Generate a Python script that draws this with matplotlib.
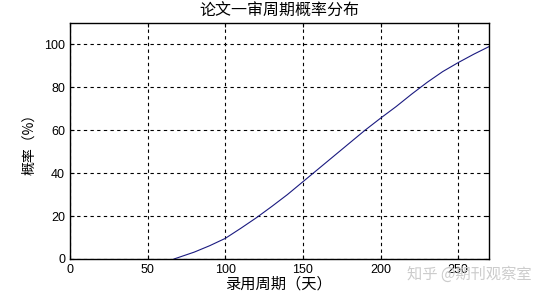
import matplotlib
matplotlib.use('Agg')
import matplotlib.pyplot as plt

# 录用周期 (days) vs cumulative probability (%)
days = [67, 80, 90, 100, 110, 120, 130, 140, 150, 160, 170, 180, 190,
        200, 210, 220, 230, 240, 250, 260, 270]
prob = [0, 3.2, 6.2, 9.6, 14.3, 19.2, 24.5, 30, 36, 42, 48, 54, 60,
        65.6, 71, 76.8, 82.3, 87.3, 91.5, 95.4, 99]

xticks = [0, 50, 100, 150, 200, 250]
yticks = [0, 20, 40, 60, 80, 100]

plt.rcParams['font.family'] = ['Noto Sans CJK SC', 'DejaVu Sans']

fig = plt.figure(figsize=(5.4, 2.97), dpi=100)
ax = fig.add_axes([0.1296, 0.128, 0.7765, 0.795])

ax.plot(days, prob, color='#1a1a80', linewidth=0.8)
ax.set_xlim(0, 270)
ax.set_ylim(0, 110)
ax.set_xticks(xticks)
ax.set_yticks(yticks)
ax.grid(True, color='black', linestyle=(0, (3, 3)), linewidth=0.8)
ax.tick_params(direction='in', length=3, labelsize=9, top=True, right=True)
for lab in ax.get_xticklabels() + ax.get_yticklabels():
    lab.set_family(['Liberation Sans', 'DejaVu Sans'])
for s in ax.spines.values():
    s.set_linewidth(1.0)

ax.set_title('论文一审周期概率分布', fontsize=11.5, pad=5)
ax.set_xlabel('录用周期（天）', fontsize=11, labelpad=0)
ax.set_ylabel('概率（%）', fontsize=10, labelpad=6)

# watermark (overlaps the 250 tick label in the original too)
fig.text(0.985, 0.075, '知乎 @期刊观察室', color='#cccccc', fontsize=11,
         ha='right', va='center')

fig.savefig('out.png', dpi=100)
